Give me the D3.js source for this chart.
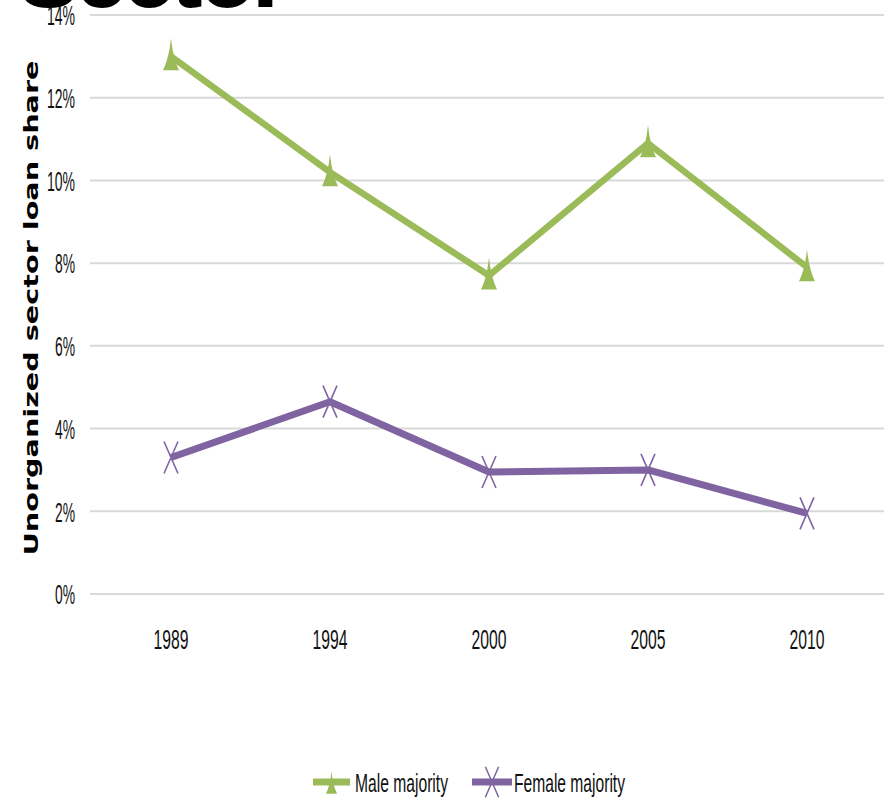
<!DOCTYPE html>
<html>
<head>
<meta charset="utf-8">
<script src="https://cdn.jsdelivr.net/npm/d3@7"></script>
<style>
  html, body { margin: 0; padding: 0; background: #fff; }
  svg { display: block; }
</style>
</head>
<body>
<svg id="chart" width="884" height="800"></svg>
<script>
// ---- data ----
const years = ["1989", "1994", "2000", "2005", "2010"];
const maleMajority = [0.130, 0.102, 0.077, 0.109, 0.079];
const femaleMajority = [0.033, 0.0465, 0.0295, 0.030, 0.0195];
const yTicks = [0, 0.02, 0.04, 0.06, 0.08, 0.10, 0.12, 0.14];
const seriesNames = ["Male majority", "Female majority"];
const titleText = "Sector";
const yTitle = "Unorganized sector loan share";

const green = "#9BBB59", purple = "#8064A2";
const svg = d3.select("#chart");

const x = d3.scaleBand().domain(years).range([91.5, 886.5]);
const y = d3.scaleLinear().domain([0, 0.14]).range([594, 15]);

// gridlines
svg.append("g").selectAll("line").data(yTicks).join("line")
  .attr("x1", 90).attr("x2", 884)
  .attr("y1", d => y(d)).attr("y2", d => y(d))
  .attr("stroke", "#d9d9d9").attr("stroke-width", 2);

// y axis labels
const yAxis = d3.axisLeft(y).tickValues(yTicks).tickFormat(d3.format(".0%")).tickSize(0).tickPadding(15);
const gy = svg.append("g").attr("transform", "translate(90,0)").call(yAxis);
gy.select(".domain").remove();
gy.selectAll("text")
  .attr("font-family", "Liberation Sans, Arial, sans-serif")
  .attr("font-size", 27).attr("fill", "#111")
  .attr("dy", "0.36em")
  .attr("textLength", d => d >= 0.1 ? 28 : 20)
  .attr("lengthAdjust", "spacingAndGlyphs");

// x axis labels
const xAxis = d3.axisBottom(x).tickSize(0).tickPadding(0);
const gx = svg.append("g").attr("transform", "translate(0,594)").call(xAxis);
gx.select(".domain").remove();
gx.selectAll("text")
  .attr("font-family", "Liberation Sans, Arial, sans-serif")
  .attr("font-size", 28).attr("fill", "#111")
  .attr("y", 55).attr("dy", 0)
  .attr("textLength", 35).attr("lengthAdjust", "spacingAndGlyphs");

const cx = d => x(d) + x.bandwidth() / 2;
const line = d3.line().x((d, i) => cx(years[i])).y(d => y(d));

const triPath = "M0,-18 Q-2,2 -8,14 L8,14 Q2,2 0,-18 Z";
const xPath = "M-7,-16 L7,16 M7,-16 L-7,16";

// male line
svg.append("path").datum(maleMajority).attr("d", line)
  .attr("fill", "none").attr("stroke", green).attr("stroke-width", 6.5)
  .attr("stroke-linejoin", "round");
svg.append("g").selectAll("path").data(maleMajority).join("path")
  .attr("d", triPath)
  .attr("transform", (d, i) => `translate(${cx(years[i])},${y(d)})`)
  .attr("fill", green);

// female line
svg.append("path").datum(femaleMajority).attr("d", line)
  .attr("fill", "none").attr("stroke", purple).attr("stroke-width", 7)
  .attr("stroke-linejoin", "round");
svg.append("g").selectAll("path").data(femaleMajority).join("path")
  .attr("d", xPath)
  .attr("transform", (d, i) => `translate(${cx(years[i])},${y(d)})`)
  .attr("fill", "none").attr("stroke", purple).attr("stroke-width", 1.6);

// y title
svg.append("text")
  .attr("transform", "translate(38,308) rotate(-90)")
  .attr("text-anchor", "middle")
  .attr("font-family", "DejaVu Sans, sans-serif")
  .attr("font-weight", "bold").attr("font-size", 19).attr("fill", "#000")
  .attr("textLength", 495).attr("lengthAdjust", "spacingAndGlyphs")
  .text(yTitle);

// top title (clipped)
svg.append("text")
  .attr("x", 20).attr("y", 6)
  .attr("font-family", "Liberation Sans, Arial, sans-serif")
  .attr("font-weight", "bold").attr("font-size", 80).attr("fill", "#000")
  .attr("stroke", "#000").attr("stroke-width", 2)
  .attr("textLength", 267).attr("lengthAdjust", "spacingAndGlyphs")
  .text(titleText);

// legend
const legend = [
  { name: seriesNames[0], color: green, x1: 313, x2: 350, mk: triPath, fill: true, tx: 355, tl: 93 },
  { name: seriesNames[1], color: purple, x1: 472, x2: 512, mk: xPath, fill: false, tx: 514, tl: 111 }
];
const lg = svg.append("g").selectAll("g").data(legend).join("g");
lg.append("line")
  .attr("x1", d => d.x1).attr("x2", d => d.x2).attr("y1", 782).attr("y2", 782)
  .attr("stroke", d => d.color).attr("stroke-width", 7);
lg.append("path")
  .attr("d", d => d.mk)
  .attr("transform", d => `translate(${(d.x1 + d.x2) / 2},${d.fill ? 784 : 782}) scale(${d.fill ? 0.7 : 0.95})`)
  .attr("fill", d => d.fill ? d.color : "none")
  .attr("stroke", d => d.fill ? "none" : d.color).attr("stroke-width", 1.6);
lg.append("text")
  .attr("x", d => d.tx).attr("y", 792)
  .attr("font-family", "Liberation Sans, Arial, sans-serif")
  .attr("font-size", 26).attr("fill", "#111")
  .attr("textLength", d => d.tl).attr("lengthAdjust", "spacingAndGlyphs")
  .text(d => d.name);
</script>
</body>
</html>
